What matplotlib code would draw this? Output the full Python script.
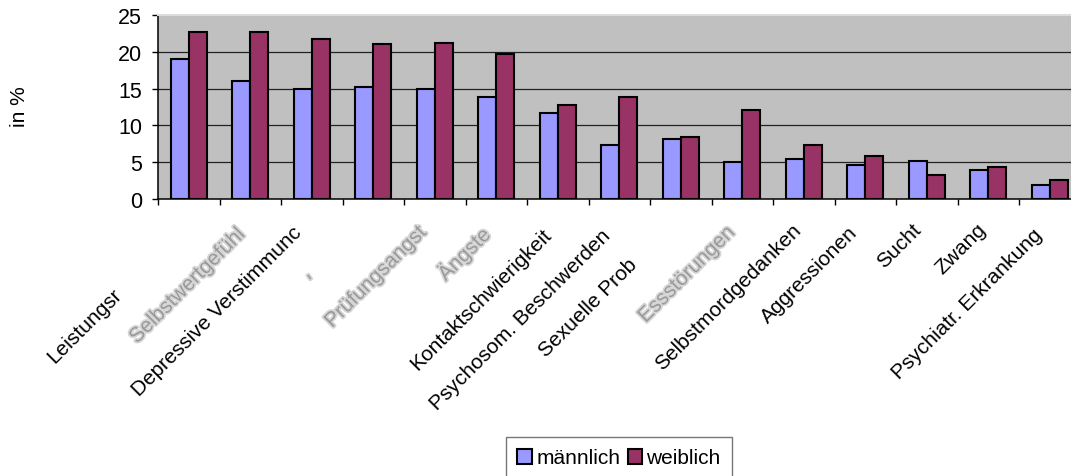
import matplotlib
matplotlib.use("Agg")
import matplotlib.pyplot as plt
import matplotlib.patheffects as pe
import numpy as np

# ---- data ----
categories = ["Leistungsr", "Selbstwertgefühl", "Depressive Verstimmunc", "-",
              "Prüfungsangst", "Ängste", "Kontaktschwierigkeit",
              "Psychosom. Beschwerden", "Sexuelle Prob", "Essstörungen",
              "Selbstmordgedanken", "Aggressionen", "Sucht", "Zwang",
              "Psychiatr. Erkrankung"]
maennlich = [19.0, 16.0, 14.9, 15.2, 15.0, 13.9, 11.7, 7.4, 8.1, 5.0, 5.5, 4.6, 5.2, 3.9, 1.9]
weiblich = [22.7, 22.7, 21.8, 21.0, 21.2, 19.7, 12.8, 13.9, 8.4, 12.1, 7.4, 5.9, 3.3, 4.4, 2.6]
yticks = [0, 5, 10, 15, 20, 25]
series_names = ["männlich", "weiblich"]
ylabel = "in %"

# ---- styling (label placement / look) ----
label_offsets = [(-70, -92), (-8, -32), (-13, -30), (-64, -78), (-11, -30),
                 (-9, -32), (-9, -32), (-12, -33), (-47, -62), (-10, -30),
                 (-6, -27), (-11, -30), (-9, -27), (-5, -27), (-10, -32)]
blurred = [False, True, False, True, True, True, False, False, False, True,
           False, False, False, False, False]

plt.rcParams['font.family'] = ['Liberation Sans', 'DejaVu Sans']

W, H = 1071, 477
fig = plt.figure(figsize=(W / 100, H / 100), dpi=100)
fig.patch.set_facecolor('white')
ax = fig.add_axes([158 / W, (H - 200) / H, (1080.5 - 158) / W, 184 / H])
ax.set_facecolor('#C0C0C0')

x = np.arange(len(categories))
bw = 0.29
ax.bar(x - bw / 2, maennlich, bw, color='#9999FF', edgecolor='black', linewidth=1.5,
       label=series_names[0], zorder=3)
ax.bar(x + bw / 2, weiblich, bw, color='#993366', edgecolor='black', linewidth=1.5,
       label=series_names[1], zorder=3)

ax.set_xlim(-0.5, len(categories) - 0.5)
ax.set_ylim(0, 25)
ax.set_yticks(yticks)
ax.set_yticklabels([str(t) for t in yticks], fontsize=15.5)
ax.tick_params(axis='y', direction='out', length=4.5, width=1, pad=7)
ax.set_xticks(np.arange(-0.5, len(categories), 1.0))
ax.set_xticklabels([])
ax.tick_params(axis='x', direction='out', length=4.5, width=1)

for t in yticks[1:-1]:
    ax.axhline(t, color='#222222', linewidth=0.9, zorder=1)

for s in ['left', 'bottom']:
    ax.spines[s].set_color('black')
    ax.spines[s].set_linewidth(1.1)
ax.spines['top'].set_color('#dcdcdc')
ax.spines['top'].set_linewidth(1.5)
ax.spines['right'].set_visible(False)

for i, (lab, off, bl) in enumerate(zip(categories, label_offsets, blurred)):
    kw = dict(rotation=45, rotation_mode='anchor', ha='right', va='center',
              fontsize=15, annotation_clip=False)
    if bl:
        kw['color'] = '#9a9a9a'
        kw['path_effects'] = [pe.withStroke(linewidth=2.5, foreground='#d6d6d6')]
    else:
        kw['color'] = 'black'
    if lab == "-":
        kw['fontsize'] = 15
        kw['rotation'] = -55
        kw['ha'] = 'center'
    ax.annotate(lab, xy=(x[i], 0), xycoords='data', xytext=off,
                textcoords='offset pixels', **kw)

fig.text(19.5 / W, 1 - 107 / H, ylabel, rotation=90, ha='center', va='center',
         fontsize=15)

leg = fig.legend(loc='center', bbox_to_anchor=(619 / W, 1 - 459 / H), ncol=2,
                 fontsize=15, frameon=True, fancybox=False, edgecolor='#555555',
                 handlelength=0.7, handleheight=0.7, handletextpad=0.2,
                 columnspacing=0.35, borderpad=0.55, borderaxespad=0,
                 handler_map=None)
leg._legend_box.sep = 0
leg.get_frame().set_linewidth(1.0)
leg._borderpad = 0.55

fig.savefig('out.png', dpi=100, facecolor='white')
